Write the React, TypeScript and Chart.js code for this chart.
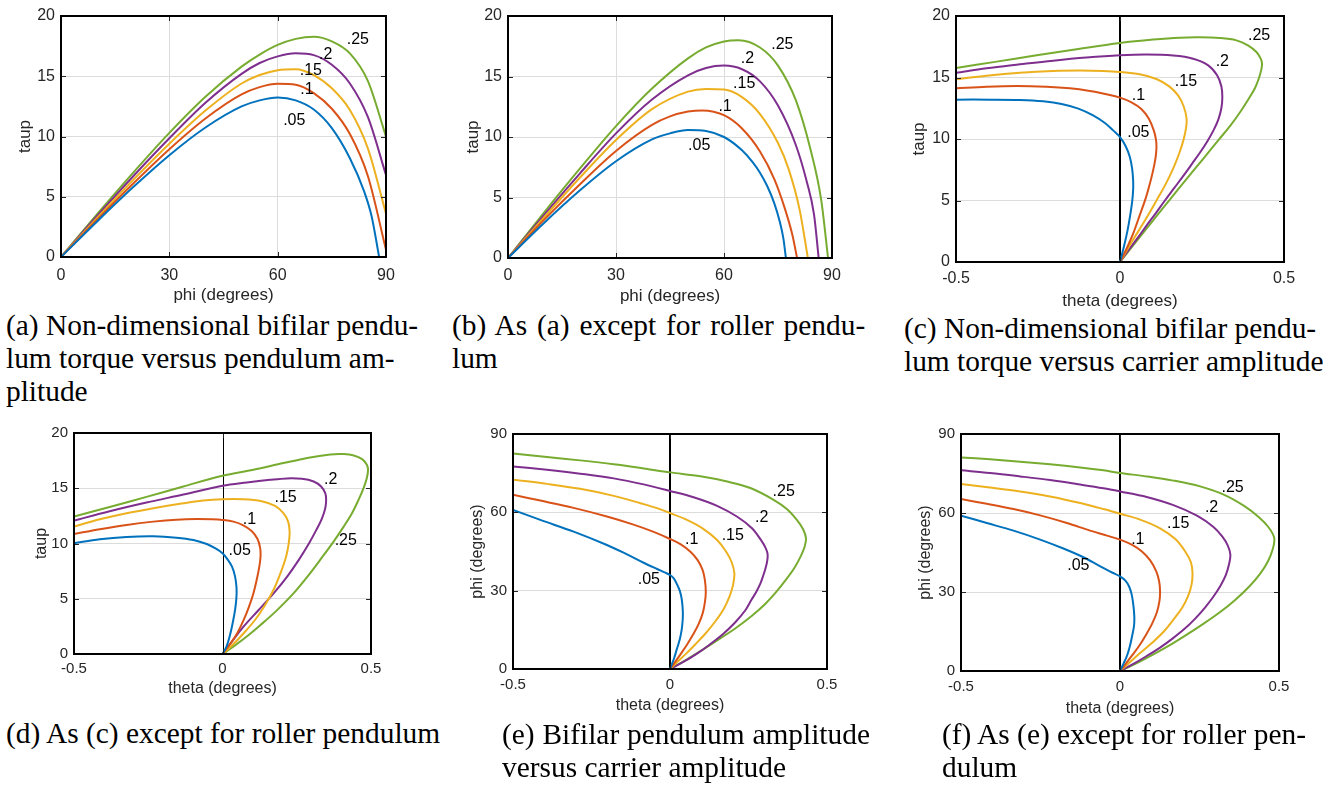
import React, { useEffect, useRef } from "react";
import { Chart, registerables } from "chart.js";
Chart.register(...registerables);

const COLORS = ["#0072BD", "#D95319", "#EDB120", "#7E2F8E", "#77AC30"];
const CURVE_NAMES = [".05", ".1", ".15", ".2", ".25"];

// ---- (a) bifilar: taup vs phi ----
const aPhi05 = [0, 10, 20, 30, 40, 50, 55, 60, 65, 70, 75, 80, 84, 86, 88.1];
const aTau05 = [0, 2.95, 5.8, 8.45, 10.75, 12.5, 13.0, 13.24, 13.0, 12.24, 10.7, 8.2, 5.4, 3.4, 0];
const aPhi10 = [0, 10, 20, 30, 40, 50, 55, 60, 65, 70, 75, 80, 85, 90];
const aTau10 = [0, 3.1, 6.1, 8.95, 11.5, 13.5, 14.1, 14.38, 14.3, 13.6, 12.3, 10.2, 6.7, 0.6];
const aPhi15 = [0, 10, 20, 30, 40, 50, 55, 60, 65, 70, 75, 80, 85, 90];
const aTau15 = [0, 3.25, 6.4, 9.4, 12.15, 14.4, 15.1, 15.5, 15.58, 15.1, 14.0, 12.2, 9.0, 3.6];
const aPhi20 = [0, 10, 20, 30, 40, 50, 55, 60, 65, 70, 75, 80, 85, 90];
const aTau20 = [0, 3.4, 6.7, 9.85, 12.8, 15.2, 16.1, 16.65, 16.9, 16.75, 15.95, 14.4, 11.6, 6.8];
const aPhi25 = [0, 10, 20, 30, 40, 50, 55, 60, 65, 70, 75, 80, 85, 90];
const aTau25 = [0, 3.55, 7.0, 10.3, 13.3, 15.8, 16.8, 17.6, 18.1, 18.28, 17.9, 16.9, 14.6, 10.0];
const aLabelX = [64.6, 68.1, 69.2, 73.3, 82.2];
const aLabelY = [11.3, 13.93, 15.44, 16.83, 18.05];

// ---- (b) roller: taup vs phi ----
const bPhi05 = [0, 10, 20, 30, 40, 45, 50, 55, 60, 65, 68, 70, 72, 74, 75.5, 76.5, 77.2];
const bTau05 = [0, 2.9, 5.6, 8.0, 9.8, 10.3, 10.58, 10.5, 10.0, 8.9, 7.9, 7.05, 5.95, 4.5, 3.0, 1.6, 0];
const bPhi10 = [0, 10, 20, 30, 40, 45, 50, 54, 60, 65, 70, 74, 77, 79, 80.3];
const bTau10 = [0, 3.15, 6.1, 8.85, 11.0, 11.7, 12.1, 12.2, 11.8, 10.7, 8.8, 6.5, 4.0, 1.9, 0];
const bPhi15 = [0, 10, 20, 30, 40, 50, 55, 60, 65, 70, 75, 78, 81, 83.3];
const bTau15 = [0, 3.35, 6.65, 9.75, 12.3, 13.75, 13.97, 13.92, 13.3, 11.9, 9.5, 7.3, 4.0, 0];
const bPhi20 = [0, 10, 20, 30, 40, 50, 55, 60, 65, 70, 75, 80, 83, 85, 86.3];
const bTau20 = [0, 3.55, 7.0, 10.3, 13.1, 15.1, 15.7, 15.9, 15.6, 14.6, 12.6, 9.3, 6.3, 3.6, 0];
const bPhi25 = [0, 10, 20, 30, 40, 50, 55, 60, 64, 70, 75, 80, 84, 87, 88.9];
const bTau25 = [0, 3.75, 7.4, 10.9, 14.0, 16.5, 17.4, 17.9, 18.0, 17.4, 15.9, 13.0, 9.0, 4.8, 0];
const bLabelX = [53.1, 60.3, 65.6, 66.5, 76.2];
const bLabelY = [9.25, 12.55, 14.41, 16.5, 17.64];

// ---- (c) bifilar: taup vs theta ----
const cTh05 = [-0.5, -0.396, -0.305, -0.234, -0.178, -0.127, -0.082, -0.046, -0.021, 0, 0.017, 0.03, 0.037, 0.04, 0.04, 0.037, 0.031, 0.023, 0.013, 0];
const cTa05 = [13.2, 13.2, 13.17, 13.06, 12.85, 12.47, 11.92, 11.3, 10.7, 10.16, 9.43, 8.54, 7.59, 6.64, 5.83, 4.88, 3.79, 2.57, 1.36, 0];
const cTh10 = [-0.5, -0.407, -0.315, -0.224, -0.153, -0.092, -0.041, 0, 0.035, 0.065, 0.088, 0.103, 0.11, 0.111, 0.108, 0.101, 0.091, 0.078, 0.06, 0.04, 0.02, 0];
const cTa10 = [14.12, 14.25, 14.31, 14.25, 14.12, 13.9, 13.63, 13.36, 12.98, 12.44, 11.65, 10.7, 9.89, 9.21, 8.4, 7.45, 6.37, 5.15, 3.79, 2.3, 1.08, 0];
const cTh15 = [-0.5, -0.407, -0.305, -0.204, -0.122, -0.051, 0, 0.06, 0.111, 0.15, 0.177, 0.194, 0.203, 0.201, 0.194, 0.182, 0.164, 0.14, 0.111, 0.075, 0.037, 0];
const cTa15 = [14.85, 15.15, 15.39, 15.53, 15.56, 15.53, 15.45, 15.26, 14.88, 14.28, 13.55, 12.66, 11.65, 10.84, 9.97, 8.94, 7.72, 6.37, 4.99, 3.33, 1.68, 0];
const cTh20 = [-0.5, -0.407, -0.305, -0.204, -0.102, 0, 0.081, 0.162, 0.223, 0.269, 0.296, 0.309, 0.312, 0.309, 0.3, 0.285, 0.266, 0.244, 0.22, 0.193, 0.165, 0.137, 0.11, 0.082, 0.055, 0.027, 0];
const cTa20 = [15.39, 15.75, 16.07, 16.37, 16.62, 16.8, 16.86, 16.78, 16.53, 15.99, 15.18, 14.28, 13.41, 12.5, 11.6, 10.7, 9.8, 8.9, 8.0, 7.0, 6.0, 5.0, 4.0, 3.0, 2.0, 1.0, 0];
const cTh25 = [-0.5, -0.376, -0.254, -0.122, 0, 0.101, 0.182, 0.243, 0.304, 0.355, 0.39, 0.416, 0.429, 0.433, 0.431, 0.424, 0.412, 0.392, 0.367, 0.337, 0.302, 0.253, 0.202, 0.152, 0.101, 0.051, 0];
const cTa25 = [15.77, 16.29, 16.8, 17.34, 17.8, 18.08, 18.24, 18.27, 18.21, 18.02, 17.62, 17.07, 16.53, 16.12, 15.66, 14.99, 14.17, 13.25, 12.22, 11.11, 9.97, 8.37, 6.72, 5.07, 3.39, 1.71, 0];
const cLabelX = [0.056, 0.056, 0.201, 0.312, 0.424];
const cLabelY = [10.53, 13.55, 14.63, 16.33, 18.41];

// ---- (d) roller: taup vs theta ----
const dTh05 = [-0.5, -0.413, -0.323, -0.233, -0.155, -0.098, -0.053, -0.022, 0, 0.017, 0.032, 0.042, 0.047, 0.047, 0.043, 0.035, 0.025, 0.013, 0];
const dTa05 = [10.02, 10.38, 10.59, 10.65, 10.53, 10.32, 9.95, 9.53, 9.11, 8.56, 7.9, 7.05, 6.08, 5.17, 4.11, 2.9, 1.69, 0.64, 0];
const dTh10 = [-0.5, -0.413, -0.323, -0.233, -0.155, -0.087, -0.037, 0, 0.037, 0.07, 0.098, 0.118, 0.127, 0.128, 0.124, 0.115, 0.104, 0.089, 0.071, 0.05, 0.025, 0];
const dTa10 = [10.86, 11.29, 11.68, 11.98, 12.16, 12.22, 12.19, 12.13, 11.98, 11.65, 11.13, 10.41, 9.56, 8.8, 7.9, 6.69, 5.48, 4.27, 3.06, 1.91, 0.88, 0];
const dTh15 = [-0.5, -0.413, -0.323, -0.233, -0.143, -0.065, 0, 0.07, 0.132, 0.177, 0.205, 0.221, 0.226, 0.223, 0.214, 0.197, 0.174, 0.143, 0.11, 0.072, 0.037, 0];
const dTa15 = [11.53, 12.19, 12.74, 13.19, 13.59, 13.89, 14.01, 14.01, 13.83, 13.4, 12.74, 11.98, 11.07, 10.02, 8.8, 7.44, 5.93, 4.42, 3.1, 1.9, 0.9, 0];
const dTh20 = [-0.5, -0.38, -0.256, -0.132, 0, 0.082, 0.16, 0.217, 0.267, 0.307, 0.332, 0.346, 0.349, 0.346, 0.335, 0.316, 0.29, 0.258, 0.219, 0.172, 0.121, 0.07, 0.031, 0];
const dTa20 = [12.07, 12.92, 13.71, 14.43, 15.22, 15.52, 15.76, 15.89, 15.85, 15.61, 15.16, 14.55, 13.95, 13.19, 12.28, 11.23, 9.95, 8.56, 7.05, 5.48, 3.96, 2.45, 1.09, 0];
const dTh25 = [-0.5, -0.38, -0.256, -0.132, 0, 0.104, 0.205, 0.295, 0.363, 0.408, 0.442, 0.47, 0.486, 0.49, 0.486, 0.475, 0.458, 0.436, 0.408, 0.374, 0.335, 0.29, 0.239, 0.183, 0.127, 0.085, 0.042, 0];
const dTa25 = [12.44, 13.31, 14.22, 15.16, 16.13, 16.67, 17.28, 17.79, 18.06, 18.09, 17.97, 17.64, 17.13, 16.67, 15.92, 15.01, 13.95, 12.74, 11.53, 10.17, 8.74, 7.14, 5.48, 3.95, 2.6, 1.65, 0.78, 0];
const dLabelX = [0.058, 0.091, 0.2125, 0.364, 0.415];
const dLabelY = [9.36, 12.2, 14.17, 15.78, 10.3];

// ---- (e) bifilar: phi vs theta ----
const eTh05 = [-0.5, -0.413, -0.307, -0.201, -0.137, -0.084, -0.041, -0.015, 0, 0.012, 0.022, 0.031, 0.037, 0.04, 0.041, 0.04, 0.037, 0.031, 0.022, 0.013, 0];
const ePh05 = [60.95, 57.1, 52.6, 47.5, 43.9, 40.7, 38.3, 36.9, 36.0, 34.7, 32.5, 30.0, 27.0, 23.8, 21.0, 18.1, 14.9, 11.3, 7.7, 4.1, 0];
const eTh10 = [-0.5, -0.413, -0.307, -0.201, -0.116, -0.052, 0, 0.033, 0.065, 0.088, 0.104, 0.111, 0.114, 0.111, 0.104, 0.091, 0.073, 0.054, 0.035, 0.017, 0];
const ePh10 = [66.7, 64.5, 61.7, 58.4, 55.3, 52.5, 49.8, 47.8, 44.9, 41.7, 37.9, 34.1, 29.6, 25.4, 21.3, 17.2, 13.1, 9.3, 5.9, 2.8, 0];
const eTh15 = [-0.5, -0.392, -0.286, -0.179, -0.094, -0.041, 0, 0.054, 0.107, 0.15, 0.179, 0.197, 0.205, 0.201, 0.19, 0.171, 0.144, 0.113, 0.081, 0.049, 0.022, 0];
const ePh15 = [72.5, 70.9, 69.0, 66.3, 63.5, 61.6, 59.7, 57.1, 53.6, 49.4, 44.9, 40.7, 36.6, 32.3, 27.9, 23.0, 18.2, 13.6, 9.5, 5.6, 2.6, 0];
const eTh20 = [-0.5, -0.392, -0.286, -0.179, -0.084, 0, 0.075, 0.15, 0.213, 0.261, 0.293, 0.304, 0.31, 0.311, 0.309, 0.304, 0.297, 0.288, 0.275, 0.259, 0.24, 0.208, 0.171, 0.128, 0.086, 0.044, 0];
const ePh20 = [77.6, 76.3, 74.8, 73.0, 70.7, 68.2, 65.8, 62.5, 58.4, 53.9, 48.8, 46.5, 44.5, 43.0, 41.0, 38.5, 35.8, 32.8, 29.6, 26.4, 22.5, 17.9, 13.6, 9.5, 5.9, 2.8, 0];
const eTh25 = [-0.5, -0.392, -0.286, -0.179, -0.084, 0, 0.097, 0.182, 0.256, 0.33, 0.373, 0.404, 0.424, 0.433, 0.429, 0.417, 0.397, 0.37, 0.339, 0.304, 0.261, 0.213, 0.16, 0.107, 0.054, 0];
const ePh25 = [82.5, 81.2, 79.9, 78.4, 76.8, 75.3, 73.8, 71.8, 69.3, 64.8, 61.2, 57.1, 53.5, 50.1, 46.9, 43.3, 38.9, 34.3, 29.6, 25.0, 20.4, 16.0, 11.7, 7.6, 3.7, 0];
const eLabelX = [-0.0675, 0.069, 0.2, 0.292, 0.362];
const eLabelY = [34.1, 49.4, 51.2, 57.9, 67.9];

// ---- (f) roller: phi vs theta ----
const fTh05 = [-0.5, -0.419, -0.335, -0.251, -0.178, -0.115, -0.062, -0.025, 0, 0.017, 0.029, 0.037, 0.042, 0.045, 0.044, 0.038, 0.031, 0.022, 0.011, 0];
const fPh05 = [59.0, 56.2, 53.3, 49.9, 46.5, 43.2, 39.7, 37.4, 35.9, 34.3, 32.0, 28.9, 25.0, 20.8, 17.0, 13.2, 9.4, 5.8, 2.8, 0];
const fTh10 = [-0.5, -0.419, -0.335, -0.251, -0.167, -0.094, -0.041, 0, 0.037, 0.069, 0.095, 0.114, 0.123, 0.126, 0.124, 0.116, 0.101, 0.082, 0.061, 0.038, 0.019, 0];
const fPh10 = [65.3, 63.5, 61.5, 59.1, 56.2, 53.3, 51.4, 49.9, 48.0, 45.4, 42.0, 37.8, 34.1, 30.3, 26.5, 22.3, 18.0, 13.8, 9.7, 5.9, 2.9, 0];
const fTh15 = [-0.5, -0.409, -0.314, -0.22, -0.125, -0.052, 0, 0.063, 0.126, 0.174, 0.205, 0.223, 0.228, 0.225, 0.214, 0.195, 0.168, 0.137, 0.1, 0.063, 0.03, 0];
const fPh15 = [71.0, 69.7, 68.2, 66.3, 63.8, 61.5, 59.7, 57.5, 54.2, 50.1, 45.4, 41.3, 37.2, 32.8, 28.4, 23.9, 19.5, 14.9, 10.6, 6.8, 3.2, 0];
const fTh20 = [-0.5, -0.409, -0.314, -0.22, -0.125, -0.052, 0, 0.084, 0.168, 0.242, 0.294, 0.322, 0.339, 0.347, 0.343, 0.333, 0.316, 0.294, 0.268, 0.238, 0.204, 0.166, 0.126, 0.084, 0.042, 0];
const fPh20 = [76.2, 75.2, 73.9, 72.5, 70.8, 69.4, 68.2, 66.1, 63.0, 59.0, 54.7, 51.0, 47.6, 44.2, 40.6, 36.5, 32.4, 28.3, 24.2, 20.1, 16.1, 12.4, 8.9, 5.7, 2.7, 0];
const fTh25 = [-0.5, -0.409, -0.314, -0.22, -0.125, -0.052, 0, 0.084, 0.168, 0.252, 0.326, 0.389, 0.436, 0.467, 0.485, 0.48, 0.465, 0.441, 0.405, 0.363, 0.315, 0.263, 0.21, 0.158, 0.105, 0.053, 0];
const fPh25 = [81.1, 80.4, 79.5, 78.5, 77.3, 76.2, 75.2, 73.9, 72.3, 70.1, 67.0, 62.8, 58.5, 54.6, 50.5, 46.1, 41.6, 37.0, 31.9, 27.1, 22.4, 18.0, 13.8, 9.9, 6.3, 3.0, 0];
const fLabelX = [-0.131, 0.056, 0.183, 0.288, 0.354];
const fLabelY = [39.9, 49.9, 55.8, 62.1, 69.7];

const PHI_TICKS_STEP = 30;
const TAUP_TICKS_STEP = 5;
const THETA_TICKS_STEP = 0.5;

const SANS = '"Liberation Sans", Arial, Helvetica, sans-serif';
const SERIF = '"Liberation Serif", "Times New Roman", Times, serif';

type Panel = {
  rect: [number, number, number, number];
  xs: number[][];
  ys: number[][];
  lx: number[];
  ly: number[];
  xMin: number; xMax: number; xStep: number;
  yMin: number; yMax: number; yStep: number;
  xTitle: string; yTitle: string;
  gridX: boolean; zeroLine: number; boxWidth: number; monotone: boolean;
  tickSize: number; titleSize: number; xTickPad: number; xTitlePad: number; yTitlePad: number;
};

const PANELS: Panel[] = [
  {
    rect: [61, 16, 386, 257],
    xs: [aPhi05, aPhi10, aPhi15, aPhi20, aPhi25], ys: [aTau05, aTau10, aTau15, aTau20, aTau25],
    lx: aLabelX, ly: aLabelY,
    xMin: 0, xMax: 90, xStep: PHI_TICKS_STEP, yMin: 0, yMax: 20, yStep: TAUP_TICKS_STEP,
    xTitle: "phi (degrees)", yTitle: "taup", gridX: true, zeroLine: 0, boxWidth: 2, monotone: true,
    tickSize: 16, titleSize: 17, xTickPad: 8.9, xTitlePad: 1.8, yTitlePad: 13.8,
  },
  {
    rect: [508, 16, 832, 258],
    xs: [bPhi05, bPhi10, bPhi15, bPhi20, bPhi25], ys: [bTau05, bTau10, bTau15, bTau20, bTau25],
    lx: bLabelX, ly: bLabelY,
    xMin: 0, xMax: 90, xStep: PHI_TICKS_STEP, yMin: 0, yMax: 20, yStep: TAUP_TICKS_STEP,
    xTitle: "phi (degrees)", yTitle: "taup", gridX: true, zeroLine: 0, boxWidth: 2, monotone: true,
    tickSize: 16, titleSize: 17, xTickPad: 7.7, xTitlePad: 1.8, yTitlePad: 14.8,
  },
  {
    rect: [956, 16, 1284, 262],
    xs: [cTh05, cTh10, cTh15, cTh20, cTh25], ys: [cTa05, cTa10, cTa15, cTa20, cTa25],
    lx: cLabelX, ly: cLabelY,
    xMin: -0.5, xMax: 0.5, xStep: THETA_TICKS_STEP, yMin: 0, yMax: 20, yStep: TAUP_TICKS_STEP,
    xTitle: "theta (degrees)", yTitle: "taup", gridX: false, zeroLine: 2, boxWidth: 2, monotone: false,
    tickSize: 16, titleSize: 17, xTickPad: 7, xTitlePad: 0.8, yTitlePad: 13.3,
  },
  {
    rect: [74, 433, 371, 654],
    xs: [dTh05, dTh10, dTh15, dTh20, dTh25], ys: [dTa05, dTa10, dTa15, dTa20, dTa25],
    lx: dLabelX, ly: dLabelY,
    xMin: -0.5, xMax: 0.5, xStep: THETA_TICKS_STEP, yMin: 0, yMax: 20, yStep: TAUP_TICKS_STEP,
    xTitle: "theta (degrees)", yTitle: "taup", gridX: false, zeroLine: 1, boxWidth: 2, monotone: false,
    tickSize: 15, titleSize: 16, xTickPad: 5.6, xTitlePad: 5.4, yTitlePad: 18.4,
  },
  {
    rect: [513, 434, 827, 669],
    xs: [eTh05, eTh10, eTh15, eTh20, eTh25], ys: [ePh05, ePh10, ePh15, ePh20, ePh25],
    lx: eLabelX, ly: eLabelY,
    xMin: -0.5, xMax: 0.5, xStep: THETA_TICKS_STEP, yMin: 0, yMax: 90, yStep: PHI_TICKS_STEP,
    xTitle: "theta (degrees)", yTitle: "phi (degrees)", gridX: false, zeroLine: 2, boxWidth: 2, monotone: false,
    tickSize: 15, titleSize: 16, xTickPad: 7.3, xTitlePad: 3.4, yTitlePad: 15.4,
  },
  {
    rect: [961, 434, 1279, 671],
    xs: [fTh05, fTh10, fTh15, fTh20, fTh25], ys: [fPh05, fPh10, fPh15, fPh20, fPh25],
    lx: fLabelX, ly: fLabelY,
    xMin: -0.5, xMax: 0.5, xStep: THETA_TICKS_STEP, yMin: 0, yMax: 90, yStep: PHI_TICKS_STEP,
    xTitle: "theta (degrees)", yTitle: "phi (degrees)", gridX: false, zeroLine: 2, boxWidth: 2, monotone: false,
    tickSize: 15, titleSize: 16, xTickPad: 6.4, xTitlePad: 2.4, yTitlePad: 15.4,
  },
];

const CAPTIONS = [
  { left: 6, top: 308.5, lines: ["(a) Non-dimensional bifilar pendu-", "lum torque versus pendulum am-", "plitude"], ws: [0, 0, 0] },
  { left: 452, top: 308.5, lines: ["(b) As (a) except for roller pendu-", "lum"], ws: [2.5, 0] },
  { left: 904, top: 311.5, lines: ["(c) Non-dimensional bifilar pendu-", "lum torque versus carrier amplitude"], ws: [0, 0] },
  { left: 6, top: 716.8, lines: ["(d) As (c) except for roller pendulum"], ws: [0] },
  { left: 502, top: 717.8, lines: ["(e) Bifilar pendulum amplitude", "versus carrier amplitude"], ws: [0.5, 0] },
  { left: 942, top: 717.8, lines: ["(f) As (e) except for roller pen-", "dulum"], ws: [0, 0] },
];

const PAD_L = 60, PAD_T = 16, PAD_R = 30, PAD_B = 50;

const framePlugin = {
  id: "frame",
  beforeDatasetsDraw(chart: any, _a: any, opts: any) {
    if (!opts.zeroLine) return;
    const { ctx, chartArea, scales } = chart;
    let px = scales.x.getPixelForValue(0);
    if (opts.zeroLine % 2 === 1) px = Math.round(px) + 0.5; else px = Math.round(px);
    ctx.save();
    ctx.strokeStyle = "#000";
    ctx.lineWidth = opts.zeroLine;
    ctx.beginPath();
    ctx.moveTo(px, chartArea.top);
    ctx.lineTo(px, chartArea.bottom);
    ctx.stroke();
    ctx.restore();
  },
  afterDatasetsDraw(chart: any, _a: any, opts: any) {
    const { ctx, chartArea, scales } = chart;
    const { left, top, right, bottom } = chartArea;
    const xs = scales.x, ys = scales.y;
    ctx.save();
    ctx.strokeStyle = "#262626";
    ctx.lineWidth = 1;
    const TL = 5;
    ctx.beginPath();
    xs.ticks.forEach((t: any) => {
      const p = Math.round(xs.getPixelForValue(t.value)) + 0.5;
      ctx.moveTo(p, bottom); ctx.lineTo(p, bottom - TL);
      ctx.moveTo(p, top); ctx.lineTo(p, top + TL);
    });
    ys.ticks.forEach((t: any) => {
      const p = Math.round(ys.getPixelForValue(t.value)) + 0.5;
      ctx.moveTo(left, p); ctx.lineTo(left + TL, p);
      ctx.moveTo(right, p); ctx.lineTo(right - TL, p);
    });
    ctx.stroke();
    ctx.strokeStyle = "#000";
    ctx.lineWidth = opts.boxWidth;
    ctx.strokeRect(left, top, right - left, bottom - top);
    ctx.fillStyle = "#000";
    ctx.font = `16px ${SANS}`;
    ctx.textAlign = "center";
    ctx.textBaseline = "middle";
    (opts.labels || []).forEach((l: any) => {
      ctx.fillText(l.text, xs.getPixelForValue(l.x), ys.getPixelForValue(l.y));
    });
    ctx.restore();
  },
};

function PanelChart({ p }: { p: Panel }) {
  const ref = useRef<HTMLCanvasElement | null>(null);
  const [L, T, R, B] = p.rect;
  const w = R - L + PAD_L + PAD_R;
  const h = B - T + PAD_T + PAD_B;
  useEffect(() => {
    if (!ref.current) return;
    const tickFont = { family: SANS, size: p.tickSize };
    const titleFont = { family: SANS, size: p.titleSize };
    const chart = new Chart(ref.current, {
      type: "line",
      data: {
        datasets: p.xs.map((xa, i) => ({
          label: CURVE_NAMES[i],
          data: xa.map((xv, j) => ({ x: xv, y: p.ys[i][j] })),
          borderColor: COLORS[i],
          backgroundColor: COLORS[i],
          borderWidth: 2,
          pointRadius: 0,
          fill: false,
          tension: p.monotone ? 0 : 0.35,
          cubicInterpolationMode: p.monotone ? "monotone" : "default",
        })),
      },
      options: {
        responsive: false,
        animation: false,
        devicePixelRatio: 1,
        events: [],
        layout: { padding: { left: 0, top: PAD_T, right: PAD_R, bottom: 0 } },
        plugins: {
          legend: { display: false },
          tooltip: { enabled: false },
          frame: {
            zeroLine: p.zeroLine,
            boxWidth: p.boxWidth,
            labels: CURVE_NAMES.map((n, i) => ({ text: n, x: p.lx[i], y: p.ly[i] })),
          },
        } as any,
        scales: {
          x: {
            type: "linear",
            min: p.xMin,
            max: p.xMax,
            border: { display: false },
            grid: { display: p.gridX, color: "#dcdcdc", drawTicks: false, lineWidth: 1 },
            ticks: {
              stepSize: p.xStep,
              padding: p.xTickPad,
              font: tickFont,
              color: "#262626",
              maxRotation: 0,
              autoSkip: false,
              callback: (v: any) => String(Math.round(Number(v) * 100) / 100),
            },
            title: { display: true, text: p.xTitle, font: titleFont, color: "#262626", padding: { top: 0, bottom: p.xTitlePad } },
            afterFit: (s: any) => { s.height = PAD_B; },
          },
          y: {
            type: "linear",
            min: p.yMin,
            max: p.yMax,
            border: { display: false },
            grid: { display: true, color: "#dcdcdc", drawTicks: false, lineWidth: 1 },
            ticks: {
              stepSize: p.yStep,
              padding: 6,
              font: tickFont,
              color: "#262626",
              autoSkip: false,
              callback: (v: any) => String(v),
            },
            title: { display: true, text: p.yTitle, font: titleFont, color: "#262626", padding: { top: p.yTitlePad, bottom: 0 } },
            afterFit: (s: any) => { s.width = PAD_L; },
          },
        },
      } as any,
      plugins: [framePlugin as any],
    });
    return () => chart.destroy();
  }, [p]);
  return (
    <canvas
      ref={ref}
      width={w}
      height={h}
      style={{ position: "absolute", left: L - PAD_L, top: T - PAD_T, width: w, height: h }}
    />
  );
}

export default function App() {
  return (
    <div style={{ position: "absolute", left: 0, top: 0, width: 1336, height: 785, background: "#fff", overflow: "hidden" }}>
      {PANELS.map((p, i) => (
        <PanelChart key={i} p={p} />
      ))}
      {CAPTIONS.map((c, i) => (
        <div
          key={"c" + i}
          style={{
            position: "absolute",
            left: c.left,
            top: c.top,
            fontFamily: SERIF,
            fontSize: 29.4,
            lineHeight: "33px",
            color: "#000",
            whiteSpace: "nowrap",
          }}
        >
          {c.lines.map((ln, j) => (
            <div key={j} style={{ wordSpacing: c.ws[j] ? `${c.ws[j]}px` : undefined }}>{ln}</div>
          ))}
        </div>
      ))}
    </div>
  );
}
